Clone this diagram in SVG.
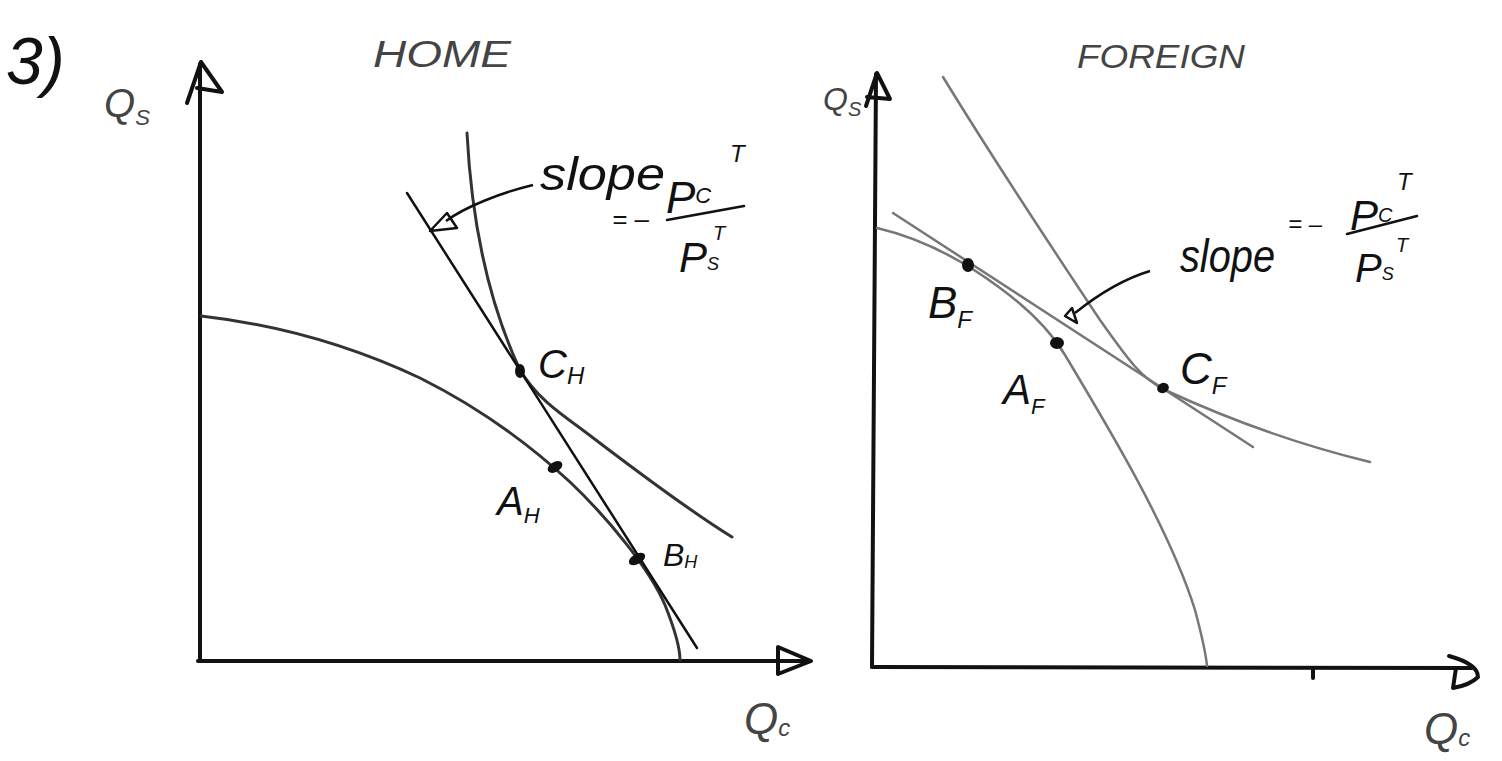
<svg xmlns="http://www.w3.org/2000/svg" width="1502" height="761" viewBox="0 0 1502 761">
<style>
.ax{fill:none;stroke:#111;stroke-width:4;stroke-linecap:round;stroke-linejoin:round}
.crv{fill:none;stroke:#333;stroke-width:3;stroke-linecap:round}
.lt{fill:none;stroke:#777;stroke-width:2.5;stroke-linecap:round}
.tan{fill:none;stroke:#111;stroke-width:2.5;stroke-linecap:round}
.arr{fill:none;stroke:#111;stroke-width:2.5;stroke-linejoin:round}
.dot{fill:#111}
.t{font-family:"Liberation Sans","DejaVu Sans",sans-serif;font-style:italic;fill:#111}
.p{font-family:"Liberation Sans","DejaVu Sans",sans-serif;font-style:italic;fill:#444}
</style>
<rect width="1502" height="761" fill="#fff"/>
<g id="title">
<text class="t" x="6" y="84" font-size="66">3)</text>
</g>
<g id="home-axes">
<path class="ax" d="M200,661 L200,64"/>
<path class="ax" d="M187,103 L201,62 L222,92 L197,88"/>
<path class="ax" d="M198,661 L808,661"/>
<path class="ax" d="M778,647 L811,661 L778,674 Z"/>
<text class="p" x="104" y="117" font-size="40">Q<tspan font-size="22" dy="8">S</tspan></text>
<text class="p" x="744" y="734" font-size="44">Q<tspan font-size="24" dy="2">c</tspan></text>
<text class="p" x="373" y="67" font-size="36" textLength="138" lengthAdjust="spacingAndGlyphs">HOME</text>
</g>
<g id="home-curves">
<path class="crv" d="M201,316 C280,325 350,345 420,378 C480,408 530,445 570,482 C610,520 650,570 665,605 C675,630 680,648 680,660"/>
<path class="crv" d="M467,133 C472,230 492,310 520,370 C535,395 555,410 580,428 C620,458 680,505 732,537"/>
<path class="tan" d="M407,193 L697,648"/>
</g>
<g id="home-slope">
<path class="arr" d="M533,185 C500,193 465,207 446,221"/>
<path class="arr" d="M430,231 L447,213 L457,228 Z"/>
<text class="t" x="540" y="190" font-size="46" textLength="125" lengthAdjust="spacingAndGlyphs">slope</text>
<text class="t" x="612" y="228" font-size="26">= –</text>
<text class="t" x="666" y="213" font-size="44">P<tspan font-size="22" dy="-10">C</tspan></text>
<text class="t" x="730" y="162" font-size="24">T</text>
<path class="tan" d="M667,220 L744,206"/>
<text class="t" x="679" y="272" font-size="42">P<tspan font-size="18" dy="-2">S</tspan></text>
<text class="t" x="713" y="240" font-size="20">T</text>
</g>
<g id="home-points">
<ellipse class="dot" cx="520" cy="371" rx="5" ry="7"/>
<text class="t" x="538" y="378" font-size="40">C<tspan font-size="24" dy="6">H</tspan></text>
<ellipse class="dot" cx="555" cy="467" rx="8" ry="5" transform="rotate(-30 555 467)"/>
<text class="t" x="497" y="515" font-size="40">A<tspan font-size="22" dy="8">H</tspan></text>
<ellipse class="dot" cx="637" cy="559" rx="9" ry="5" transform="rotate(-30 637 559)"/>
<text class="t" x="663" y="566" font-size="32">B<tspan font-size="18" dy="2">H</tspan></text>
</g>
<g id="foreign-axes">
<path class="ax" d="M872,667 L876,74"/>
<path class="ax" d="M866,106 L877,73 L890,99 L867,97"/>
<path class="ax" d="M872,667 L1472,668"/>
<path class="ax" d="M1449,656 Q1478,664 1478,677 Q1470,685 1453,688 L1456,668"/>
<path class="ax" d="M1313,668 L1313,678" stroke-width="2"/>
<text class="p" x="823" y="110" font-size="32">Q<tspan font-size="20" dy="6">S</tspan></text>
<text class="p" x="1424" y="744" font-size="44">Q<tspan font-size="24" dy="2">c</tspan></text>
<text class="p" x="1077" y="68" font-size="34" textLength="168" lengthAdjust="spacingAndGlyphs">FOREIGN</text>
</g>
<g id="foreign-curves">
<path class="lt" d="M877,228 C920,238 960,258 1000,288 C1030,310 1050,330 1065,355 C1110,430 1170,530 1195,610 C1203,640 1206,655 1207,666" stroke="#555" stroke-width="3"/>
<path class="lt" d="M943,77 C1000,170 1060,260 1100,320 C1125,355 1140,378 1165,390 C1230,420 1300,445 1370,462" stroke="#555"/>
<path class="lt" d="M893,213 L1253,447"/>
</g>
<g id="foreign-slope">
<path class="arr" d="M1150,271 C1120,280 1095,297 1075,313"/>
<path class="arr" d="M1065,316 L1072,308 L1077,323 Z"/>
<text class="t" x="1180" y="272" font-size="46" textLength="95" lengthAdjust="spacingAndGlyphs">slope</text>
<text class="t" x="1288" y="232" font-size="24">= –</text>
<text class="t" x="1350" y="230" font-size="42">P<tspan font-size="20" dy="-8">C</tspan></text>
<text class="t" x="1397" y="190" font-size="24">T</text>
<path class="tan" d="M1347,234 L1417,216"/>
<text class="t" x="1355" y="282" font-size="40">P<tspan font-size="18" dy="-2">S</tspan></text>
<text class="t" x="1396" y="252" font-size="20">T</text>
</g>
<g id="foreign-points">
<ellipse class="dot" cx="968" cy="265" rx="6" ry="7"/>
<text class="t" x="928" y="318" font-size="44">B<tspan font-size="24" dy="10">F</tspan></text>
<ellipse class="dot" cx="1057" cy="343" rx="7" ry="6"/>
<text class="t" x="1003" y="404" font-size="42">A<tspan font-size="22" dy="10">F</tspan></text>
<ellipse class="dot" cx="1163" cy="388" rx="6" ry="5" transform="rotate(-20 1163 388)"/>
<text class="t" x="1180" y="384" font-size="44">C<tspan font-size="24" dy="10">F</tspan></text>
</g>
</svg>
